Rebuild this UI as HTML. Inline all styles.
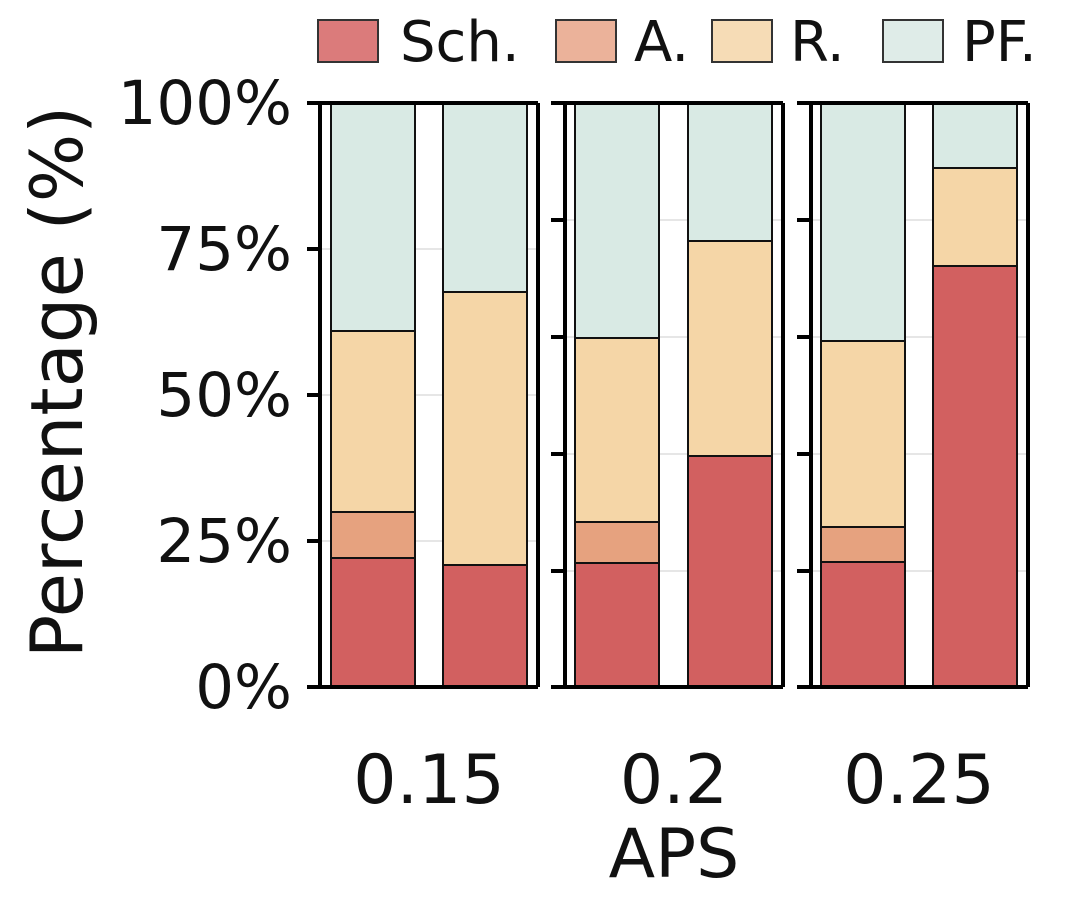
<!DOCTYPE html>
<html><head><style>body{margin:0;background:#fff}</style></head><body>
<svg width="1080" height="906" xmlns="http://www.w3.org/2000/svg" font-family="'DejaVu Sans','Liberation Sans',sans-serif">
<rect width="1080" height="906" fill="#fff"/>
<g stroke="#333" stroke-width="2">
<rect x="318" y="20" width="60" height="42" fill="#db7b7b"/>
<rect x="556" y="20" width="60" height="42" fill="#ebb29a"/>
<rect x="712" y="20" width="60" height="42" fill="#f6dcb6"/>
<rect x="883" y="20" width="60" height="42" fill="#dfece8"/>
</g>
<g font-size="56" fill="#111">
<text x="400" y="61">Sch.</text><text x="634" y="61">A.</text><text x="790" y="61">R.</text><text x="962" y="61">PF.</text>
</g>
<text transform="translate(82,382) rotate(-90)" text-anchor="middle" font-size="72" fill="#111">Percentage (%)</text>
<g font-size="61" fill="#111" text-anchor="end">
<text x="292" y="124">100%</text><text x="292" y="270">75%</text><text x="292" y="416">50%</text><text x="292" y="562">25%</text><text x="292" y="708">0%</text>
</g>
<g stroke="#ddd" stroke-width="1.5">
<line x1="320" x2="538" y1="249" y2="249"/><line x1="320" x2="538" y1="395" y2="395"/><line x1="320" x2="538" y1="541" y2="541"/>
<line x1="565" x2="783" y1="220" y2="220"/><line x1="565" x2="783" y1="337" y2="337"/><line x1="565" x2="783" y1="454" y2="454"/><line x1="565" x2="783" y1="571" y2="571"/>
<line x1="811" x2="1028" y1="220" y2="220"/><line x1="811" x2="1028" y1="337" y2="337"/><line x1="811" x2="1028" y1="454" y2="454"/><line x1="811" x2="1028" y1="571" y2="571"/>
</g>
<g stroke="#111" stroke-width="2">
<rect x="331" y="103" width="84" height="228" fill="#d9eae4"/>
<rect x="331" y="331" width="84" height="181" fill="#f5d6a7"/>
<rect x="331" y="512" width="84" height="46" fill="#e6a27f"/>
<rect x="331" y="558" width="84" height="129" fill="#d26060"/>
<rect x="443" y="103" width="84" height="189" fill="#d9eae4"/>
<rect x="443" y="292" width="84" height="273" fill="#f5d6a7"/>
<rect x="443" y="565" width="84" height="122" fill="#d26060"/>
<rect x="575" y="103" width="84" height="235" fill="#d9eae4"/>
<rect x="575" y="338" width="84" height="184" fill="#f5d6a7"/>
<rect x="575" y="522" width="84" height="41" fill="#e6a27f"/>
<rect x="575" y="563" width="84" height="124" fill="#d26060"/>
<rect x="688" y="103" width="84" height="138" fill="#d9eae4"/>
<rect x="688" y="241" width="84" height="215" fill="#f5d6a7"/>
<rect x="688" y="456" width="84" height="231" fill="#d26060"/>
<rect x="821" y="103" width="84" height="238" fill="#d9eae4"/>
<rect x="821" y="341" width="84" height="186" fill="#f5d6a7"/>
<rect x="821" y="527" width="84" height="35" fill="#e6a27f"/>
<rect x="821" y="562" width="84" height="125" fill="#d26060"/>
<rect x="933" y="103" width="84" height="65" fill="#d9eae4"/>
<rect x="933" y="168" width="84" height="98" fill="#f5d6a7"/>
<rect x="933" y="266" width="84" height="421" fill="#d26060"/>
</g>
<g stroke="#000" stroke-width="4" fill="none">
<path d="M320 103V687M538 103V687M307 103H538M307 687H538M307 249H320M307 395H320M307 541H320"/>
<path d="M565 103V687M783 103V687M551 103H783M551 687H783M551 220H565M551 337H565M551 454H565M551 571H565"/>
<path d="M811 103V687M1028 103V687M797 103H1028M797 687H1028M797 220H811M797 337H811M797 454H811M797 571H811"/>
</g>
<g font-size="68" fill="#111" text-anchor="middle">
<text x="429" y="803">0.15</text><text x="674" y="803">0.2</text><text x="919" y="803">0.25</text>
<text x="674" y="877" font-size="68">APS</text>
</g>
</svg>
</body></html>
